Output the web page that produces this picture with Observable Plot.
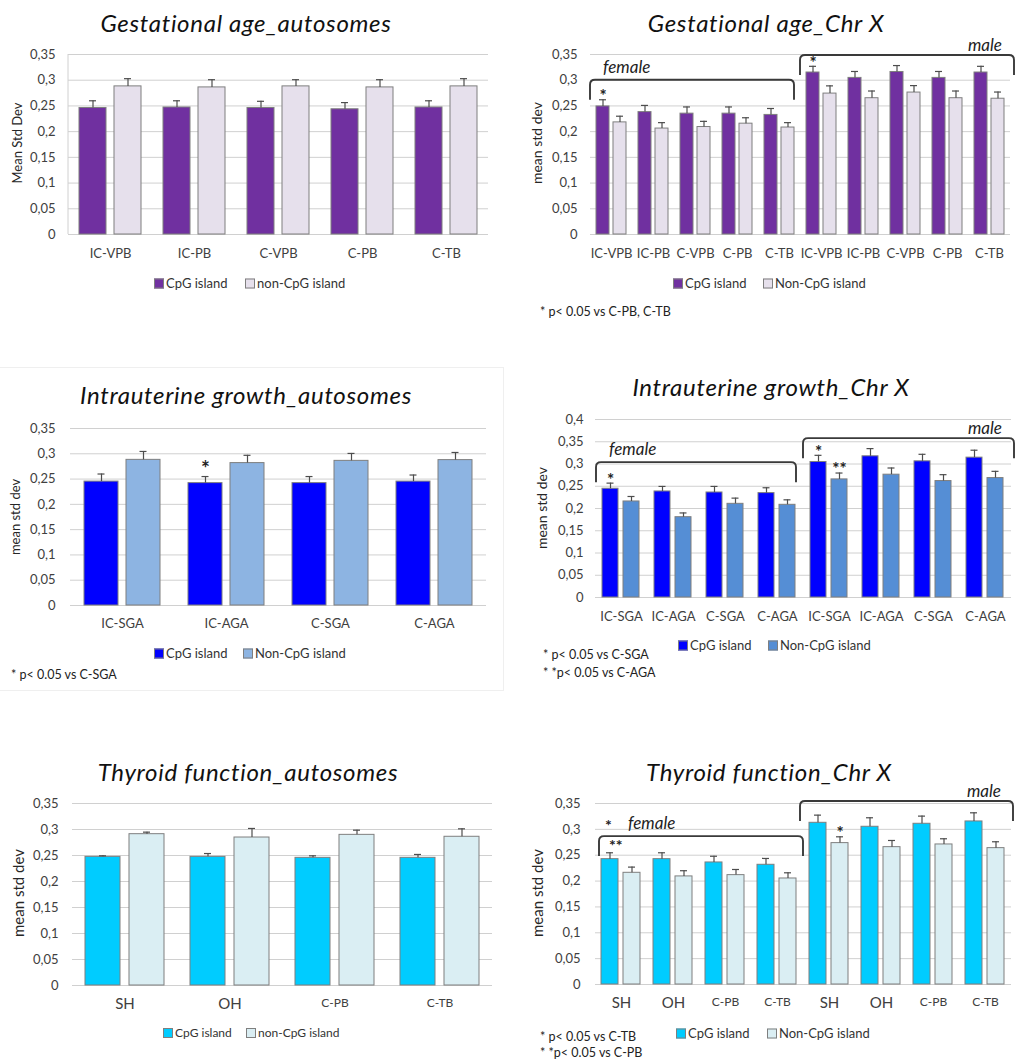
<!DOCTYPE html>
<html>
<head>
<meta charset="utf-8">
<script src="https://cdn.jsdelivr.net/npm/d3@7"></script>
<script src="https://cdn.jsdelivr.net/npm/@observablehq/plot@0.6"></script>
<style>
  body { margin: 0; background: #fff; }
  #page { position: relative; width: 1019px; height: 1064px; overflow: hidden; background: #fff;
          font-family: Lato, "Open Sans", sans-serif; color: #262626; }
  #page svg { position: absolute; overflow: visible; }
  .abs { position: absolute; white-space: nowrap; line-height: 1; }
  .title { font-style: italic; font-size: 24px; letter-spacing: 0.7px; color: #111; transform: translate(-50%, -50%); }
  .ylab { transform: translate(-50%, -50%) rotate(-90deg); color: #262626; }
  .leg { font-size: 13px; transform: translateY(-50%); display: flex; align-items: center; color: #333; }
  .sw { display: inline-block; width: 8px; height: 8px; border: 1px solid #7f7f7f; margin-right: 2px; }
  .note { font-size: 12.5px; transform: translateY(-50%); color: #222; }
  .box { position: absolute; border: 1px solid #efefef; }
</style>
</head>
<body>
<div id="page"></div>
<script>
// ---------- tick values ----------
const yTicks035 = [0, 0.05, 0.1, 0.15, 0.2, 0.25, 0.3, 0.35];
const yTicks040 = [0, 0.05, 0.1, 0.15, 0.2, 0.25, 0.3, 0.35, 0.4];

const titles = [
  "Gestational age_autosomes", "Gestational age_Chr X",
  "Intrauterine growth_autosomes", "Intrauterine growth_Chr X",
  "Thyroid function_autosomes", "Thyroid function_Chr X"
];

// ---------- Gestational age ----------
const gaGroups = ["IC-VPB", "IC-PB", "C-VPB", "C-PB", "C-TB"];
const gaAutoCpG    = [0.246, 0.247, 0.246, 0.2435, 0.247];
const gaAutoCpGErr = [0.014, 0.013, 0.013, 0.013, 0.013];
const gaAutoNon    = [0.288, 0.286, 0.288, 0.286, 0.288];
const gaAutoNonErr = [0.015, 0.015, 0.013, 0.015, 0.015];

const gaXFemaleCpG    = [0.249, 0.238, 0.235, 0.235, 0.2325];
const gaXFemaleCpGErr = [0.013, 0.013, 0.013, 0.013, 0.0125];
const gaXFemaleNon    = [0.218, 0.206, 0.209, 0.2155, 0.208];
const gaXFemaleNonErr = [0.012, 0.0115, 0.011, 0.0115, 0.0095];
const gaXMaleCpG      = [0.315, 0.3045, 0.316, 0.3045, 0.315];
const gaXMaleCpGErr   = [0.012, 0.0125, 0.0125, 0.0125, 0.012];
const gaXMaleNon      = [0.274, 0.265, 0.276, 0.265, 0.264];
const gaXMaleNonErr   = [0.015, 0.014, 0.0135, 0.014, 0.013];
const gaXStars = [
  {key: "F:IC-VPB", series: "CpG", text: "*"},
  {key: "M:IC-VPB", series: "CpG", text: "*"}
];

// ---------- Intrauterine growth ----------
const iuGroups = ["IC-SGA", "IC-AGA", "C-SGA", "C-AGA"];
const iuAutoCpG    = [0.245, 0.242, 0.242, 0.245];
const iuAutoCpGErr = [0.015, 0.013, 0.013, 0.013];
const iuAutoNon    = [0.288, 0.2816, 0.286, 0.2875];
const iuAutoNonErr = [0.0166, 0.0154, 0.0147, 0.0151];
const iuAutoStars = [{key: "IC-AGA", series: "CpG", text: "*"}];

const iuXFemaleCpG    = [0.2444, 0.2383, 0.236, 0.2346];
const iuXFemaleCpGErr = [0.0126, 0.0113, 0.0136, 0.012];
const iuXFemaleNon    = [0.2158, 0.1805, 0.2105, 0.2083];
const iuXFemaleNonErr = [0.0112, 0.0095, 0.0128, 0.0112];
const iuXMaleCpG      = [0.3045, 0.3173, 0.306, 0.3143];
const iuXMaleCpGErr   = [0.015, 0.0173, 0.0158, 0.0167];
const iuXMaleNon      = [0.2654, 0.276, 0.2617, 0.2684];
const iuXMaleNonErr   = [0.0143, 0.015, 0.0143, 0.0151];
const iuXStars = [
  {key: "F:IC-SGA", series: "CpG", text: "*"},
  {key: "M:IC-SGA", series: "CpG", text: "*"},
  {key: "M:IC-SGA", series: "non", text: "**"}
];

// ---------- Thyroid function ----------
const thGroups = ["SH", "OH", "C-PB", "C-TB"];
const thAutoCpG    = [0.2474, 0.2474, 0.2455, 0.2455];
const thAutoCpGErr = [0.002, 0.0064, 0.0039, 0.0065];
const thAutoNon    = [0.291, 0.2846, 0.2897, 0.286];
const thAutoNonErr = [0.0039, 0.0174, 0.009, 0.0153];

const thXFemaleCpG    = [0.2424, 0.2424, 0.236, 0.2315];
const thXFemaleCpGErr = [0.0123, 0.0123, 0.012, 0.0122];
const thXFemaleNon    = [0.216, 0.209, 0.2115, 0.205];
const thXFemaleNonErr = [0.011, 0.011, 0.0109, 0.011];
const thXMaleCpG      = [0.3127, 0.305, 0.3108, 0.3153];
const thXMaleCpGErr   = [0.0148, 0.0174, 0.0148, 0.0167];
const thXMaleNon      = [0.2734, 0.2656, 0.2708, 0.2637];
const thXMaleNonErr   = [0.0122, 0.0129, 0.011, 0.0123];
const thXStars = [{key: "M:SH", series: "non", text: "*"}];

// ---------- colours ----------
const purpleSet = ["#7030A0", "#E6E0EC"];
const blueAutoSet = ["#0000FF", "#8DB4E2"];
const blueXSet = ["#0000FF", "#558ED5"];
const cyanSet = ["#00CCFF", "#DAEEF3"];

// ---------- helpers ----------
const FONT = "Lato, 'Open Sans', sans-serif";
const page = document.getElementById("page");

function buildRows(groups, sets) {
  const rows = [];
  for (const s of sets) {
    groups.forEach((g, i) => {
      const key = s.prefix + g;
      rows.push({key, series: "CpG", value: s.cpg[i], hi: s.cpg[i] + s.cpgErr[i]});
      rows.push({key, series: "non", value: s.non[i], hi: s.non[i] + s.nonErr[i]});
    });
  }
  return rows;
}
function keysOf(groups, prefixes) {
  return prefixes.flatMap(p => groups.map(g => p + g));
}
function attachTop(stars, rows) {
  return stars.map(s => ({...s, hi: rows.find(r => r.key === s.key && r.series === s.series).hi}));
}
const commaFmt = d => d === 0 ? "0" : String(+d.toFixed(2)).replace(".", ",");

function addDiv(text, cls, left, top, style = {}) {
  const d = document.createElement("div");
  d.className = "abs " + cls;
  d.textContent = text;
  d.style.left = left + "px";
  d.style.top = top + "px";
  Object.assign(d.style, style);
  page.appendChild(d);
  return d;
}

function drawPanel(p) {
  const [mt, mr, mb, ml] = p.margin;
  const inset = Math.max(0, (p.barW - 8) / 2);
  const stars = attachTop(p.stars || [], p.rows);
  const plot = Plot.plot({
    width: p.width, height: p.height,
    marginTop: mt, marginRight: mr, marginBottom: mb, marginLeft: ml,
    style: {fontFamily: FONT, fontSize: "13px", color: "#404040", background: "transparent", overflow: "visible"},
    fx: {domain: p.keys, padding: 0, axis: null, label: null},
    x: {domain: ["CpG", "non"], paddingInner: p.padIn, paddingOuter: p.padOut, axis: null},
    y: {domain: p.yDomain, axis: null},
    color: {domain: ["CpG", "non"], range: p.colors},
    marks: [
      Plot.gridY(p.ticks, {stroke: "#d0d0d0", strokeOpacity: 1, strokeWidth: 1}),
      Plot.axisY(p.ticks, {tickSize: 0, tickPadding: p.yPad, tickFormat: commaFmt, fontSize: 13, label: null, fill: "#404040"}),
      Plot.axisFx({anchor: "bottom", tickSize: 0, tickPadding: p.xPad, tickFormat: k => k.split(":").pop(),
                   fontSize: 13, label: null, fill: "#404040"}),
      Plot.barY(p.rows, {fx: "key", x: "series", y: "value", fill: "series", stroke: "#7f7f7f", strokeWidth: 1}),
      Plot.ruleX(p.rows, {fx: "key", x: "series", y1: "value", y2: "hi", stroke: "#4d4d4d", strokeWidth: 1.2}),
      Plot.tickY(p.rows, {fx: "key", x: "series", y: "hi", stroke: "#4d4d4d", strokeWidth: 1.2, insetLeft: inset, insetRight: inset}),
      Plot.text(stars, {fx: "key", x: "series", y: "hi", text: "text", dy: p.starDy ?? -3,
                        fontSize: p.starSize || 17, fontWeight: p.starWeight || "bold", fill: "#222"})
    ]
  });
  plot.style.left = p.left + "px";
  plot.style.top = p.top + "px";
  page.appendChild(plot);

  const svg = d3.select(plot);
  const fx = plot.scale("fx"), y = plot.scale("y");

  // larger labels for the hypothyroidism groups
  if (p.bigLabels) {
    svg.selectAll('[aria-label="fx-axis tick label"] text').each(function () {
      const t = this.textContent;
      d3.select(this).attr("font-size", p.bigLabels.includes(t) ? 15 : 12);
    });
  }

  // vertical axis line
  if (p.axisLine) {
    svg.append("line")
      .attr("x1", fx.range[0]).attr("x2", fx.range[0])
      .attr("y1", y.apply(p.yDomain[1])).attr("y2", y.apply(0))
      .attr("stroke", "#d0d0d0");
  }

  // sex brackets
  for (const b of p.brackets || []) {
    const x1 = fx.apply(b.from) + b.padL;
    const x2 = fx.apply(b.to) + fx.bandwidth + b.padR;
    const yl = y.apply(b.level), yb = yl + 20, r = 5;
    svg.append("path")
      .attr("d", `M${x1},${yb}V${yl + r}Q${x1},${yl} ${x1 + r},${yl}H${x2 - r}Q${x2},${yl} ${x2},${yl + r}V${yb}`)
      .attr("fill", "none").attr("stroke", "#3a3a3a").attr("stroke-width", 1.9);
    const t = svg.append("text")
      .attr("font-family", FONT).attr("font-style", "italic").attr("font-size", 17)
      .attr("fill", "#222").attr("dy", "0.35em").text(b.text);
    if (b.anchor === "end") t.attr("text-anchor", "end").attr("x", x2 - 12).attr("y", yl - 10);
    else t.attr("text-anchor", "start").attr("x", x1 + b.labelDx).attr("y", yl - 13);
    for (const e of b.extra || []) {
      svg.append("text").attr("font-family", FONT).attr("font-size", 16).attr("font-weight", "bold")
        .attr("fill", "#222").attr("text-anchor", "start")
        .attr("x", x1 + e.dx).attr("y", yl + e.dy).attr("dy", "0.35em").text(e.text);
    }
  }

  // title, axis label, legend, notes
  addDiv(p.title, "title", p.titleXY[0], p.titleXY[1]);
  addDiv(p.ylabel, "ylab", p.ylabXY[0], p.ylabXY[1], {fontSize: p.ylabSize + "px"});
  const colors = plot.scale("color").range;
  p.legendNames.forEach((name, i) => {
    const d = addDiv("", "leg", p.legendX[i], p.legendY, p.legendSize ? {fontSize: p.legendSize + "px"} : {});
    const sw = document.createElement("span");
    sw.className = "sw";
    sw.style.background = colors[i];
    d.appendChild(sw);
    d.appendChild(document.createTextNode(name));
  });
  for (const [txt, x, yy] of p.notes || []) addDiv(txt, "note", x, yy);
}

// faint outline of the intrauterine autosome chart area
const box = document.createElement("div");
box.className = "box";
Object.assign(box.style, {left: "-1px", top: "367px", width: "503px", height: "322px"});
page.appendChild(box);

const panels = [
  {
    rows: buildRows(gaGroups, [{prefix: "", cpg: gaAutoCpG, cpgErr: gaAutoCpGErr, non: gaAutoNon, nonErr: gaAutoNonErr}]),
    keys: gaGroups, colors: purpleSet, yDomain: [0, 0.35], ticks: yTicks035,
    left: 0, top: 0, width: 509, height: 275, margin: [54, 21, 41, 68],
    padIn: 0.222, padOut: 0.278, barW: 28, xPad: 14, yPad: 13, axisLine: true,
    title: titles[0], titleXY: [246, 23], ylabel: "Mean Std Dev", ylabXY: [17, 143], ylabSize: 13,
    legendNames: ["CpG island", "non-CpG island"], legendX: [154, 245], legendY: 283
  },
  {
    rows: buildRows(gaGroups, [
      {prefix: "F:", cpg: gaXFemaleCpG, cpgErr: gaXFemaleCpGErr, non: gaXFemaleNon, nonErr: gaXFemaleNonErr},
      {prefix: "M:", cpg: gaXMaleCpG, cpgErr: gaXMaleCpGErr, non: gaXMaleNon, nonErr: gaXMaleNonErr}]),
    keys: keysOf(gaGroups, ["F:", "M:"]), colors: purpleSet, yDomain: [0, 0.35], ticks: yTicks035,
    stars: gaXStars,
    left: 509, top: 0, width: 510, height: 275, margin: [54, 9, 41, 81],
    padIn: 0.222, padOut: 0.278, barW: 14, xPad: 14, yPad: 13,
    title: titles[1], titleXY: [766, 23], ylabel: "mean std dev", ylabXY: [537, 143], ylabSize: 14,
    legendNames: ["CpG island", "Non-CpG island"], legendX: [673, 763], legendY: 283,
    notes: [["* p< 0.05 vs C-PB, C-TB", 540, 312]],
    brackets: [
      {from: "F:IC-VPB", to: "F:C-TB", padL: 0, padR: -6, level: 0.30, text: "female", labelDx: 13},
      {from: "M:IC-VPB", to: "M:C-TB", padL: 0, padR: 4, level: 0.348, text: "male", anchor: "end"}
    ]
  },
  {
    rows: buildRows(iuGroups, [{prefix: "", cpg: iuAutoCpG, cpgErr: iuAutoCpGErr, non: iuAutoNon, nonErr: iuAutoNonErr}]),
    keys: iuGroups, colors: blueAutoSet, yDomain: [0, 0.35], ticks: yTicks035,
    stars: iuAutoStars, starSize: 21, starWeight: "bold", starDy: -7,
    left: 0, top: 355, width: 509, height: 280, margin: [73, 22, 30, 68],
    padIn: 0.186, padOut: 0.311, barW: 35, xPad: 13, yPad: 15,
    title: titles[2], titleXY: [246, 395], ylabel: "mean std dev", ylabXY: [15, 517], ylabSize: 13,
    legendNames: ["CpG island", "Non-CpG island"], legendX: [154, 243], legendY: 653,
    notes: [["* p< 0.05 vs C-SGA", 11, 675]]
  },
  {
    rows: buildRows(iuGroups, [
      {prefix: "F:", cpg: iuXFemaleCpG, cpgErr: iuXFemaleCpGErr, non: iuXFemaleNon, nonErr: iuXFemaleNonErr},
      {prefix: "M:", cpg: iuXMaleCpG, cpgErr: iuXMaleCpGErr, non: iuXMaleNon, nonErr: iuXMaleNonErr}]),
    keys: keysOf(iuGroups, ["F:", "M:"]), colors: blueXSet, yDomain: [0, 0.4], ticks: yTicks040,
    stars: iuXStars,
    left: 509, top: 355, width: 510, height: 280, margin: [64, 7, 38, 84],
    padIn: 0.227, padOut: 0.305, barW: 17, xPad: 14, yPad: 12,
    title: titles[3], titleXY: [771, 387], ylabel: "mean std dev", ylabXY: [542, 508], ylabSize: 14,
    legendNames: ["CpG island", "Non-CpG island"], legendX: [678, 768], legendY: 645,
    notes: [["* p< 0.05 vs C-SGA", 543, 655], ["* *p< 0.05 vs C-AGA", 543, 673]],
    brackets: [
      {from: "F:IC-SGA", to: "F:C-AGA", padL: 1, padR: -7, level: 0.303, text: "female", labelDx: 13},
      {from: "M:IC-SGA", to: "M:C-AGA", padL: 0, padR: 3, level: 0.357, text: "male", anchor: "end"}
    ]
  },
  {
    rows: buildRows(thGroups, [{prefix: "", cpg: thAutoCpG, cpgErr: thAutoCpGErr, non: thAutoNon, nonErr: thAutoNonErr}]),
    keys: thGroups, colors: cyanSet, yDomain: [0, 0.35], ticks: yTicks035, bigLabels: ["SH", "OH"],
    left: 0, top: 735, width: 509, height: 285, margin: [68, 17, 35, 71],
    padIn: 0.2, padOut: 0.27, barW: 36, xPad: 13, yPad: 14,
    title: titles[4], titleXY: [248, 772], ylabel: "mean std dev", ylabXY: [18, 893], ylabSize: 15,
    legendNames: ["CpG island", "non-CpG island"], legendX: [163, 246], legendY: 1033, legendSize: 12
  },
  {
    rows: buildRows(thGroups, [
      {prefix: "F:", cpg: thXFemaleCpG, cpgErr: thXFemaleCpGErr, non: thXFemaleNon, nonErr: thXFemaleNonErr},
      {prefix: "M:", cpg: thXMaleCpG, cpgErr: thXMaleCpGErr, non: thXMaleNon, nonErr: thXMaleNonErr}]),
    keys: keysOf(thGroups, ["F:", "M:"]), colors: cyanSet, yDomain: [0, 0.35], ticks: yTicks035, bigLabels: ["SH", "OH"],
    stars: thXStars,
    left: 509, top: 735, width: 510, height: 285, margin: [68, 6, 36, 83],
    padIn: 0.217, padOut: 0.252, barW: 18, xPad: 13, yPad: 15,
    title: titles[5], titleXY: [769, 772], ylabel: "mean std dev", ylabXY: [537, 893], ylabSize: 15,
    legendNames: ["CpG island", "Non-CpG island"], legendX: [676, 767], legendY: 1033,
    notes: [["* p< 0.05 vs C-TB", 540, 1037], ["* *p< 0.05 vs C-PB", 540, 1053]],
    brackets: [
      {from: "F:SH", to: "F:C-TB", padL: 4, padR: 0, level: 0.286, text: "female", labelDx: 29,
       extra: [{text: "*", dx: 6, dy: -11}, {text: "**", dx: 10, dy: 9}]},
      {from: "M:SH", to: "M:C-TB", padL: -3, padR: 2, level: 0.354, text: "male", anchor: "end"}
    ]
  }
];

panels.forEach(drawPanel);
</script>
</body>
</html>
